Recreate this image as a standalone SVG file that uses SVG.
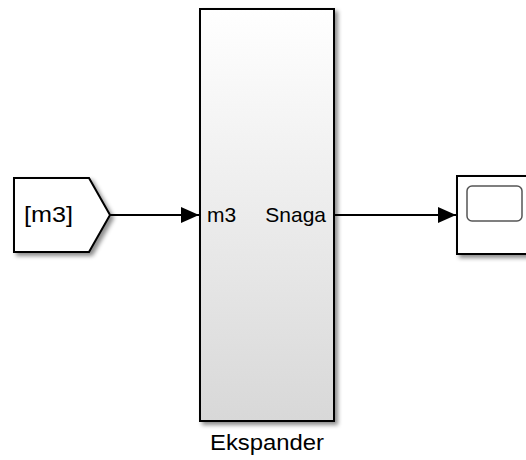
<svg xmlns="http://www.w3.org/2000/svg" width="526" height="460" viewBox="0 0 526 460">
<style>
.blk{stroke:#000;stroke-width:2}
.lbl{font-family:"Liberation Sans",Arial,sans-serif;font-size:21px;fill:#000}
.wire{stroke:#000;stroke-width:2.2;fill:none}
</style>
<defs>
<linearGradient id="g" x1="0" y1="0" x2="0" y2="1">
<stop offset="0" stop-color="#ffffff"/>
<stop offset="1" stop-color="#d8d8d8"/>
</linearGradient>
<filter id="sh" x="-10%" y="-10%" width="130%" height="130%">
<feDropShadow dx="3" dy="3" stdDeviation="2" flood-color="#000" flood-opacity="0.45"/>
</filter>
<marker id="ah" markerWidth="18" markerHeight="18" viewBox="0 0 18 18" refX="18" refY="9" markerUnits="userSpaceOnUse" orient="auto">
<path d="M0,1 L18,9 L0,17 Z" fill="#000"/>
</marker>
</defs>
<g id="from">
<path class="blk" d="M14,178 L89,178 L110,215 L89,252 L14,252 Z" fill="#fff" filter="url(#sh)"/>
<text class="lbl" x="24" y="222" style="font-size:22px" textLength="49" lengthAdjust="spacingAndGlyphs">[m3]</text>
</g>
<g id="ekspander">
<rect class="blk" x="200" y="9" width="134" height="412" fill="url(#g)" filter="url(#sh)"/>
<text class="lbl" x="207" y="222">m3</text>
<text class="lbl" x="326" y="222" text-anchor="end">Snaga</text>
<text class="lbl" x="210" y="450" style="font-size:21.5px" textLength="114" lengthAdjust="spacingAndGlyphs">Ekspander</text>
</g>
<g id="scope">
<rect class="blk" x="457" y="176" width="80" height="78" fill="#fff" filter="url(#sh)"/>
<rect x="467" y="186" width="55" height="35" rx="5" fill="#fff" stroke="#555" stroke-width="1.5"/>
</g>
<g id="connectors">
<line class="wire" x1="110" y1="215" x2="199" y2="215" marker-end="url(#ah)"/>
<line class="wire" x1="334" y1="215" x2="456" y2="215" marker-end="url(#ah)"/>
</g>
</svg>
